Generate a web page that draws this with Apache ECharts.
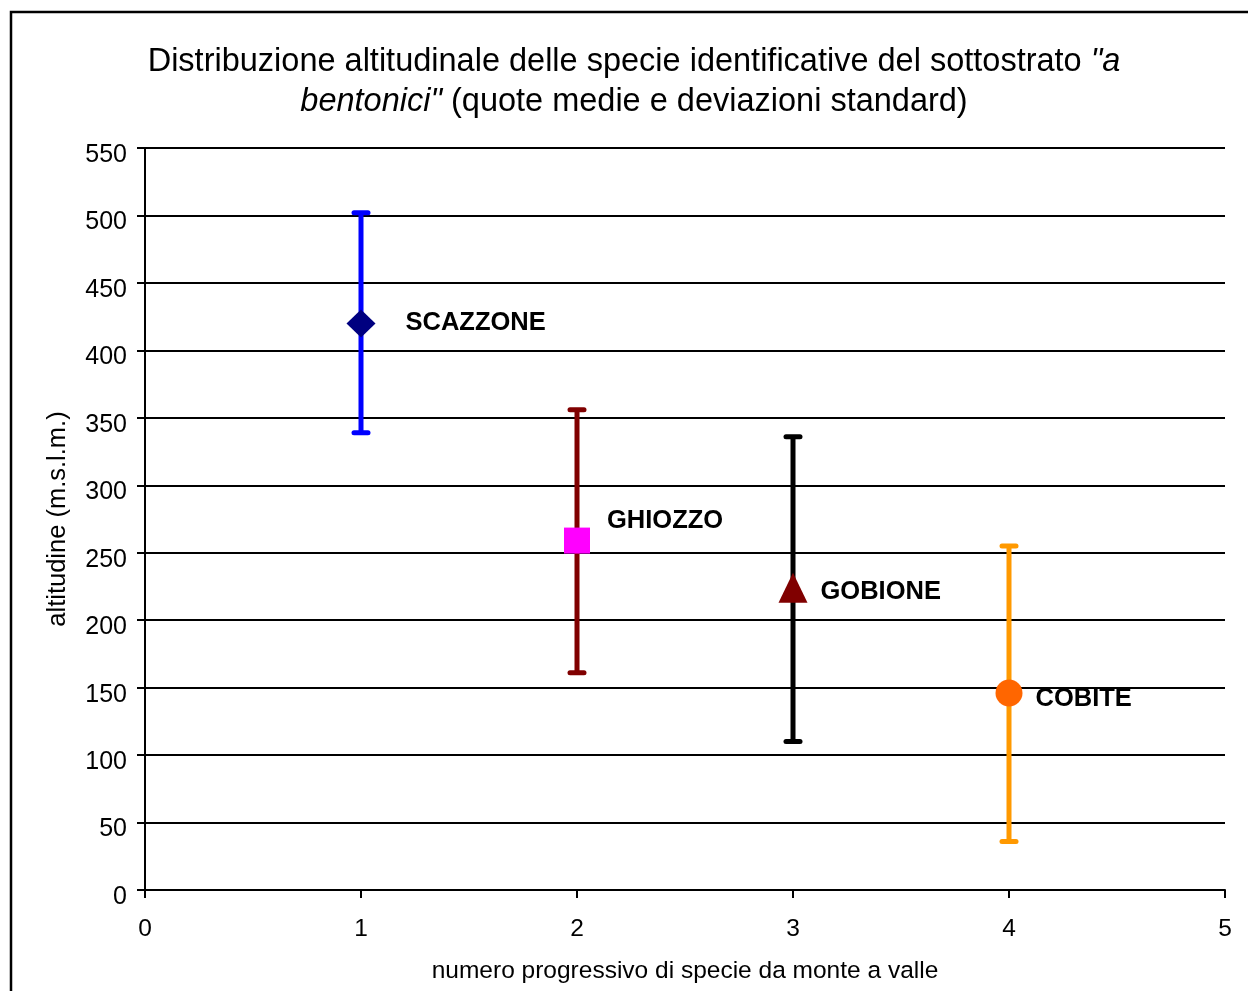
<!DOCTYPE html>
<html>
<head>
<meta charset="utf-8">
<script src="https://cdn.jsdelivr.net/npm/echarts@6/dist/echarts.min.js"></script>
<style>
html,body{margin:0;padding:0;background:#fff;}
#chart{width:1248px;height:991px;}
</style>
</head>
<body>
<div id="chart"></div>
<script>
// ---- data ----
const species = ['SCAZZONE', 'GHIOZZO', 'GOBIONE', 'COBITE'];
const xPos = [1, 2, 3, 4];
const means = [420, 259, 224, 146];
const lows = [339, 161, 110, 36];
const highs = [502, 356, 336, 255];
const yTicks = [0, 50, 100, 150, 200, 250, 300, 350, 400, 450, 500, 550];
const xTicks = [0, 1, 2, 3, 4, 5];
const titleLine1 = 'Distribuzione altitudinale delle specie identificative del sottostrato ';
const titleLine1Italic = '"a';
const titleLine2Italic = 'bentonici"';
const titleLine2 = ' (quote medie e deviazioni standard)';

// ---- styles ----
const style = {
  barColors: ['#0000FF', '#800000', '#000000', '#FF9900'],
  markerColors: ['#000080', '#FF00FF', '#800000', '#FF6600'],
  markerSymbols: ['diamond', 'rect', 'triangle', 'circle'],
  markerSizes: [[29, 28], 26, [29, 30], 27],
  labelDistance: [30, 17, 13, 13],
  labelDy: [0, -20, 4, 6]
};
const font = 'Liberation Sans, Arial, sans-serif';

const chart = echarts.init(document.getElementById('chart'), null, {renderer: 'canvas'});

const option = {
  backgroundColor: '#ffffff',
  animation: false,
  graphic: [
    {
      type: 'rect',
      shape: {x: 11, y: 12, width: 1260, height: 1000},
      style: {fill: 'none', stroke: '#000', lineWidth: 2.5},
      silent: true
    },
    {
      type: 'text',
      x: 634,
      y: 42,
      silent: true,
      style: {
        text: '{n|' + titleLine1 + '}{i|' + titleLine1Italic + '}\n{i|' + titleLine2Italic + '}{n|' + titleLine2 + '}',
        align: 'center',
        verticalAlign: 'top',
        rich: {
          n: {fontFamily: font, fontSize: 32.5, color: '#000', lineHeight: 40},
          i: {fontFamily: font, fontSize: 32.5, fontStyle: 'italic', color: '#000', lineHeight: 40}
        }
      }
    }
  ],
  grid: {left: 145, top: 148, width: 1080, height: 742},
  xAxis: {
    type: 'value',
    min: xTicks[0],
    max: xTicks[xTicks.length - 1],
    interval: 1,
    name: 'numero progressivo di specie da monte a valle',
    nameLocation: 'middle',
    nameGap: 69,
    nameTextStyle: {fontFamily: font, fontSize: 24.5, color: '#000'},
    axisLine: {show: true, onZero: false, lineStyle: {color: '#000', width: 2}},
    axisTick: {show: true, length: 8, lineStyle: {color: '#000', width: 2}},
    axisLabel: {fontFamily: font, fontSize: 24.5, color: '#000', margin: 27},
    splitLine: {show: false}
  },
  yAxis: {
    type: 'value',
    min: yTicks[0],
    max: yTicks[yTicks.length - 1],
    interval: 50,
    name: 'altitudine (m.s.l.m.)',
    nameLocation: 'middle',
    nameGap: 74,
    nameTextStyle: {fontFamily: font, fontSize: 25.5, color: '#000'},
    axisLine: {show: true, lineStyle: {color: '#000', width: 2}},
    axisTick: {show: true, length: 8, lineStyle: {color: '#000', width: 2}},
    axisLabel: {
      margin: 18,
      formatter: '{a|{value}}',
      rich: {a: {fontFamily: font, fontSize: 25, color: '#000', padding: [14, 0, 0, 0]}}
    },
    splitLine: {show: true, lineStyle: {color: '#000', width: 2}}
  },
  series: [
    {
      type: 'custom',
      z: 3,
      data: xPos.map((x, i) => [x, lows[i], highs[i]]),
      renderItem: function (params, api) {
        const x = api.value(0);
        const pLo = api.coord([x, api.value(1)]);
        const pHi = api.coord([x, api.value(2)]);
        const c = style.barColors[params.dataIndex];
        const half = 7;
        return {
          type: 'group',
          children: [
            {type: 'line', shape: {x1: pLo[0], y1: pLo[1], x2: pHi[0], y2: pHi[1]},
              style: {stroke: c, lineWidth: 5}},
            {type: 'line', shape: {x1: pHi[0] - half, y1: pHi[1], x2: pHi[0] + half, y2: pHi[1]},
              style: {stroke: c, lineWidth: 5, lineCap: 'round'}},
            {type: 'line', shape: {x1: pLo[0] - half, y1: pLo[1], x2: pLo[0] + half, y2: pLo[1]},
              style: {stroke: c, lineWidth: 5, lineCap: 'round'}}
          ]
        };
      }
    },
    {
      type: 'scatter',
      z: 4,
      data: xPos.map((x, i) => ({
        value: [x, means[i]],
        name: species[i],
        symbol: style.markerSymbols[i],
        symbolSize: style.markerSizes[i],
        itemStyle: {color: style.markerColors[i], opacity: 1},
        label: {
          show: true,
          position: 'right',
          distance: style.labelDistance[i],
          offset: [0, style.labelDy[i]],
          formatter: species[i],
          fontFamily: font,
          fontWeight: 'bold',
          fontSize: 25.5,
          color: '#000'
        }
      }))
    }
  ]
};
chart.setOption(option);
</script>
</body>
</html>
